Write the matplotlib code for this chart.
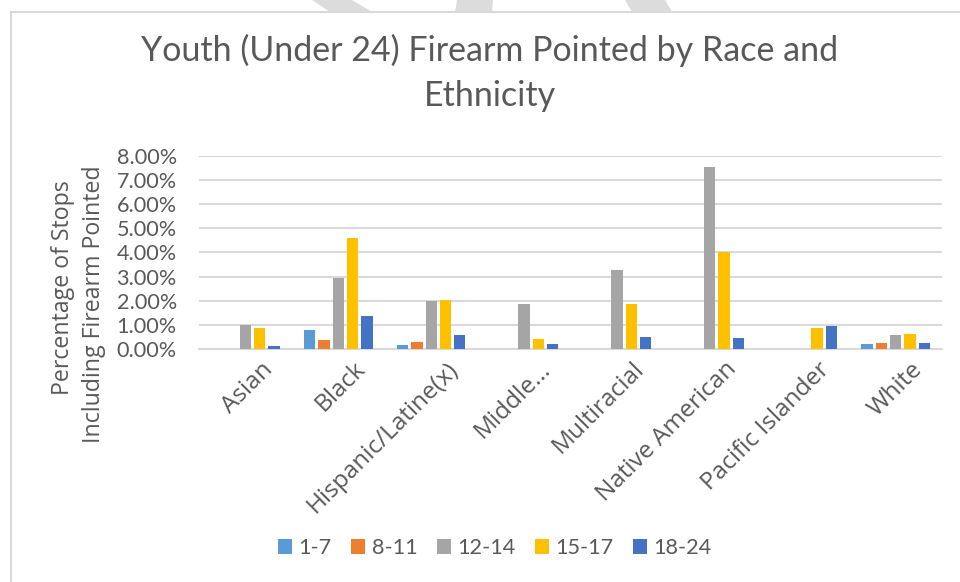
import matplotlib

matplotlib.use("Agg")

import matplotlib.pyplot as plt
import numpy as np
from matplotlib.patches import Polygon, Rectangle
from matplotlib.ticker import PercentFormatter
from matplotlib.transforms import ScaledTranslation

W, H = 960, 582
TEXT = "#595959"
GRID = "#d9d9d9"
NARROW = ["Lato", "DejaVu Sans"]
WIDE = ["Open Sans", "DejaVu Sans"]

categories = ["Asian", "Black", "Hispanic/Latine(x)", "Middle...", "Multiracial",
              "Native American", "Pacific Islander", "White"]
age_groups = ["1-7", "8-11", "12-14", "15-17", "18-24"]
colors = ["#5B9BD5", "#ED7D31", "#A5A5A5", "#FFC000", "#4472C4"]

# percent of stops including firearm pointed
pct_1_7 = [0.00, 0.78, 0.17, 0.00, 0.00, 0.00, 0.00, 0.21]
pct_8_11 = [0.00, 0.39, 0.28, 0.00, 0.00, 0.00, 0.00, 0.25]
pct_12_14 = [0.98, 2.93, 1.99, 1.85, 3.27, 7.54, 0.00, 0.57]
pct_15_17 = [0.86, 4.62, 2.05, 0.40, 1.85, 4.04, 0.86, 0.61]
pct_18_24 = [0.14, 1.38, 0.57, 0.19, 0.48, 0.47, 0.94, 0.24]
series = [pct_1_7, pct_8_11, pct_12_14, pct_15_17, pct_18_24]

plt.rcParams["font.family"] = NARROW

fig = plt.figure(figsize=(W / 100, H / 100), dpi=100)
renderer = fig.canvas.get_renderer()


def fit_size(text, family, target_px, base=20.0):
    """Font size (pt) that makes `text` about target_px wide."""
    t = fig.text(0, 0, text, fontsize=base, family=family)
    w = t.get_window_extent(renderer).width
    t.remove()
    return base * target_px / w


title_fs = fit_size("Youth (Under 24) Firearm Pointed by Race and", NARROW, 699)
ylab_fs = fit_size("Including Firearm Pointed", WIDE, 278)
xtick_fs = fit_size("Hispanic/Latine(x)", WIDE, 203)
ytick_fs = fit_size("8.00%", NARROW, 60)

# faint watermark strokes above the chart box
for pts in ([(312, 0), (352, 0), (372, 12), (330, 12)],
            [(457, 0), (493, 0), (492, 12), (455, 12)],
            [(625, 0), (665, 0), (672, 12), (632, 12)]):
    fig.add_artist(Polygon([(x / W, 1 - y / H) for x, y in pts], closed=True,
                           transform=fig.transFigure, color="#dcdcdc", lw=0))

# chart border
fig.add_artist(Rectangle((11 / W, -0.01), 1.0, 1 - 12 / H + 0.01,
                         transform=fig.transFigure, fill=False,
                         edgecolor=GRID, lw=1.5))

ax = fig.add_axes([199 / W, 1 - 349 / H, 743 / W, 193 / H])

x = np.arange(len(categories))
step = 0.154
width = 0.122
for i, (vals, name, c) in enumerate(zip(series, age_groups, colors)):
    ax.bar(x + (i - 2) * step, vals, width, color=c, label=name, zorder=3)

ax.set_xlim(-0.5, len(categories) - 0.5)
ax.set_ylim(0, 8)
ax.set_yticks(np.arange(0, 9, 1))
ax.yaxis.set_major_formatter(PercentFormatter(decimals=2))
ax.grid(axis="y", color=GRID, lw=1.5, zorder=0)
for s in ["top", "right", "left"]:
    ax.spines[s].set_visible(False)
ax.spines["bottom"].set_color(GRID)
ax.spines["bottom"].set_linewidth(1.5)
ax.tick_params(length=0, colors=TEXT)
ax.tick_params(axis="y", pad=16, labelsize=ytick_fs)
ax.tick_params(axis="x", pad=6)
ax.set_xticks(x)
ax.set_xticklabels(categories, rotation=45, ha="right", va="top",
                   rotation_mode="anchor", family=WIDE, fontsize=xtick_fs)
shift = ScaledTranslation(15 / 100, 0, fig.dpi_scale_trans)
for lab in ax.get_xticklabels():
    lab.set_transform(lab.get_transform() + shift)

fig.text(490 / W, 1 - 50 / H, "Youth (Under 24) Firearm Pointed by Race and",
         ha="center", va="center", fontsize=title_fs, color=TEXT)
fig.text(490 / W, 1 - 96 / H, "Ethnicity",
         ha="center", va="center", fontsize=title_fs, color=TEXT)

fig.text(63 / W, 1 - 288 / H, "Percentage of Stops", rotation=90, family=WIDE,
         ha="center", va="center", fontsize=ylab_fs, color=TEXT)
fig.text(94 / W, 1 - 304 / H, "Including Firearm Pointed", rotation=90,
         family=WIDE, ha="center", va="center", fontsize=ylab_fs, color=TEXT)

fig.legend(loc="center", bbox_to_anchor=(495 / W, 1 - 548 / H), ncol=5,
           frameon=False, fontsize=ytick_fs, labelcolor=TEXT, handlelength=0.65,
           handleheight=0.65, handletextpad=0.3, columnspacing=0.9)

fig.savefig("out.png", dpi=100, facecolor="white")
